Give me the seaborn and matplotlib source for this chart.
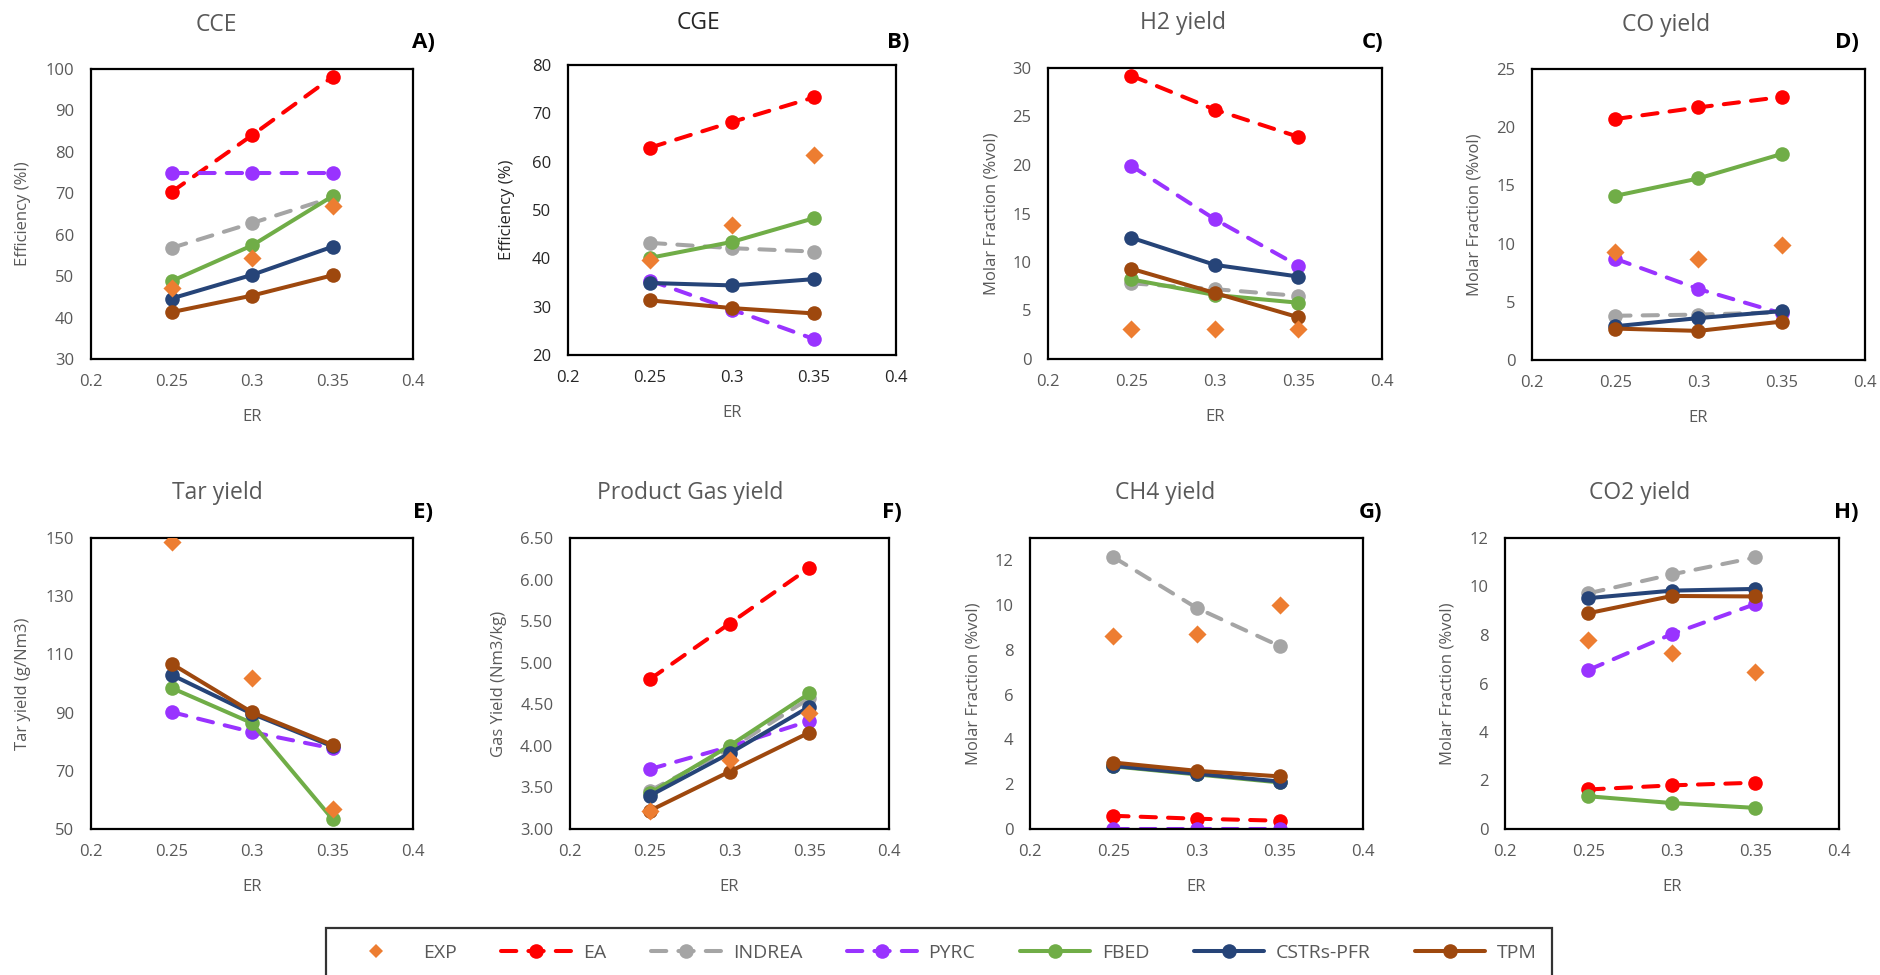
import matplotlib
matplotlib.use("Agg")
import matplotlib.pyplot as plt
from matplotlib.lines import Line2D
import seaborn as sns

# ---------------------------------------------------------------- data
ER = [0.25, 0.30, 0.35]
XTICKS = [0.2, 0.25, 0.3, 0.35, 0.4]
XTICK_LABELS = ["0.2", "0.25", "0.3", "0.35", "0.4"]

MODELS = ["EXP", "EA", "INDREA", "PYRC", "FBED", "CSTRs-PFR", "TPM"]

cce = {
    "EXP": [47.1, 54.5, 66.9],
    "EA": [70.3, 84.0, 98.1],
    "INDREA": [56.8, 62.8, 69.0],
    "PYRC": [75.0, 75.0, 75.0],
    "FBED": [48.8, 57.4, 69.3],
    "CSTRs-PFR": [44.6, 50.3, 57.1],
    "TPM": [41.3, 45.3, 50.2],
}
cge = {
    "EXP": [39.6, 46.9, 61.3],
    "EA": [62.9, 68.2, 73.3],
    "INDREA": [43.2, 42.1, 41.4],
    "PYRC": [35.4, 29.4, 23.3],
    "FBED": [40.1, 43.4, 48.3],
    "CSTRs-PFR": [34.9, 34.4, 35.7],
    "TPM": [31.3, 29.7, 28.6],
}
h2 = {
    "EXP": [3.1, 3.1, 3.1],
    "EA": [29.2, 25.7, 22.9],
    "INDREA": [7.8, 7.2, 6.5],
    "PYRC": [19.9, 14.4, 9.6],
    "FBED": [8.2, 6.6, 5.8],
    "CSTRs-PFR": [12.5, 9.7, 8.5],
    "TPM": [9.3, 6.8, 4.3],
}
co = {
    "EXP": [9.3, 8.7, 9.9],
    "EA": [20.7, 21.7, 22.6],
    "INDREA": [3.8, 3.9, 4.1],
    "PYRC": [8.7, 6.1, 4.0],
    "FBED": [14.1, 15.6, 17.7],
    "CSTRs-PFR": [2.9, 3.6, 4.2],
    "TPM": [2.7, 2.5, 3.3],
}
tar = {
    "EXP": [148.5, 102.0, 57.0],
    "PYRC": [90.2, 83.3, 77.7],
    "FBED": [98.5, 86.4, 53.4],
    "CSTRs-PFR": [103.0, 89.6, 78.4],
    "TPM": [106.8, 90.1, 78.9],
}
gas = {
    "EXP": [3.22, 3.83, 4.40],
    "EA": [4.80, 5.47, 6.14],
    "INDREA": [3.46, 3.96, 4.57],
    "PYRC": [3.72, 3.99, 4.30],
    "FBED": [3.43, 4.00, 4.63],
    "CSTRs-PFR": [3.40, 3.91, 4.47],
    "TPM": [3.22, 3.69, 4.16],
}
ch4 = {
    "EXP": [8.6, 8.7, 10.0],
    "EA": [0.59, 0.46, 0.37],
    "INDREA": [12.15, 9.88, 8.17],
    "PYRC": [0.02, 0.02, 0.02],
    "FBED": [2.80, 2.44, 2.08],
    "CSTRs-PFR": [2.82, 2.47, 2.12],
    "TPM": [2.97, 2.60, 2.35],
}
co2 = {
    "EXP": [7.8, 7.27, 6.49],
    "EA": [1.63, 1.80, 1.91],
    "INDREA": [9.72, 10.5, 11.2],
    "PYRC": [6.56, 8.04, 9.28],
    "FBED": [1.35, 1.07, 0.87],
    "CSTRs-PFR": [9.52, 9.83, 9.90],
    "TPM": [8.90, 9.61, 9.59],
}

# ---------------------------------------------------------------- style
W, H, DPI = 1881, 975, 100
GREY_TXT = "#595959"
DARK_TXT = "#262626"
COLORS = {
    "EXP": "#ED7D31",
    "EA": "#FF0000",
    "INDREA": "#A5A5A5",
    "PYRC": "#9933FF",
    "FBED": "#70AD47",
    "CSTRs-PFR": "#264478",
    "TPM": "#9E480E",
}
DASHED = {"EA", "INDREA", "PYRC"}
DASH = (0, (3.8, 3.0))
LW = 2.9
MS = 10.5

sns.set_theme(style="white")
plt.rcParams["font.family"] = ["Open Sans", "DejaVu Sans"]


def px_rect(left, right, top, bottom):
    return [left / W, 1 - bottom / H, (right - left) / W, (bottom - top) / H]


# panel: data, y range, y ticks, tick format, title, y label, letter,
# axes box (px), title centre (px), letter centre (px), y-label x (px), text colour
panels = [
    (cce, (30, 100), range(30, 101, 10), "{:.0f}", "CCE", "Efficiency (%l)", "A)",
     (91, 413, 69, 359), (216, 25), (423, 43), 23, GREY_TXT),
    (cge, (20, 80), range(20, 81, 10), "{:.0f}", "CGE", "Efficiency (%)", "B)",
     (568, 896, 65, 355), (699, 23), (898, 43), 507, DARK_TXT),
    (h2, (0, 30), range(0, 31, 5), "{:.0f}", "H2 yield", "Molar Fraction (%vol)", "C)",
     (1048, 1382, 68, 359), (1183, 23), (1373, 43), 992, GREY_TXT),
    (co, (0, 25), range(0, 26, 5), "{:.0f}", "CO yield", "Molar Fraction (%vol)", "D)",
     (1532, 1865, 69, 360), (1666, 25), (1847, 43), 1475, GREY_TXT),
    (tar, (50, 150), range(50, 151, 20), "{:.0f}", "Tar yield", "Tar yield (g/Nm3)", "E)",
     (91, 413, 538, 829), (217, 493), (423, 513), 23, GREY_TXT),
    (gas, (3.0, 6.5), [3.0, 3.5, 4.0, 4.5, 5.0, 5.5, 6.0, 6.5], "{:.2f}", "Product Gas yield",
     "Gas Yield (Nm3/kg)", "F)",
     (570, 889, 538, 829), (690, 493), (892, 513), 499, GREY_TXT),
    (ch4, (0, 13), range(0, 13, 2), "{:.0f}", "CH4 yield", "Molar Fraction (%vol)", "G)",
     (1030, 1363, 538, 829), (1165, 493), (1370, 513), 973, GREY_TXT),
    (co2, (0, 12), range(0, 13, 2), "{:.0f}", "CO2 yield", "Molar Fraction (%vol)", "H)",
     (1505, 1839, 538, 829), (1640, 493), (1846, 513), 1448, GREY_TXT),
]

fig = plt.figure(figsize=(W / DPI, H / DPI), dpi=DPI, facecolor="white")

for (data, ylim, yticks, fmt, title, ylabel, letter,
     box, tpos, lpos, ylab_x, tcol) in panels:
    left, right, top, bottom = box
    ax = fig.add_axes(px_rect(left, right, top, bottom))
    ax.set_facecolor("white")

    # model curves first, measured points on top
    for name in MODELS[1:]:
        if name not in data:
            continue
        sns.lineplot(
            x=ER, y=data[name], ax=ax, color=COLORS[name],
            marker="o", markersize=MS, markeredgewidth=0,
            linewidth=LW, errorbar=None,
            linestyle=DASH if name in DASHED else "-",
            dash_capstyle="round", solid_capstyle="round",
        )
    sns.scatterplot(
        x=ER, y=data["EXP"], ax=ax, color=COLORS["EXP"], marker="D",
        s=85, linewidth=0, zorder=5,
    )

    ax.set_xlim(0.2, 0.4)
    ax.set_ylim(*ylim)
    ax.set_xticks(XTICKS)
    ax.set_xticklabels(XTICK_LABELS)
    yt = list(yticks)
    ax.set_yticks(yt)
    ax.set_yticklabels([fmt.format(v) for v in yt])
    ax.tick_params(axis="both", length=0, labelsize=12, labelcolor=tcol)
    ax.tick_params(axis="x", pad=11)
    ax.tick_params(axis="y", pad=12)
    for sp in ax.spines.values():
        sp.set_visible(True)
        sp.set_color("black")
        sp.set_linewidth(1.6)
    ax.grid(False)

    hgt = bottom - top
    wid = right - left
    ax.set_xlabel("ER", fontsize=12, color=GREY_TXT)
    ax.xaxis.set_label_coords(0.5, -(58 / hgt))
    ax.xaxis.label.set_verticalalignment("center")
    ax.set_ylabel(ylabel, fontsize=12, color=tcol)
    ax.yaxis.set_label_coords((ylab_x - left) / wid, 0.5)
    ax.yaxis.label.set_verticalalignment("center")

    ax.text((tpos[0] - left) / wid, (bottom - tpos[1]) / hgt, title,
            transform=ax.transAxes, ha="center", va="center",
            fontsize=16.5, color=tcol)
    ax.text((lpos[0] - left) / wid, (bottom - lpos[1]) / hgt, letter,
            transform=ax.transAxes, ha="center", va="center",
            fontsize=16, fontweight="bold", color="black")

# shared legend along the bottom edge
handles = [Line2D([], [], color=COLORS["EXP"], marker="D", markersize=7,
                  markeredgewidth=0, linestyle="none")]
for name in MODELS[1:]:
    handles.append(Line2D([], [], color=COLORS[name], marker="o", markersize=MS,
                          markeredgewidth=0, linewidth=LW,
                          linestyle=DASH if name in DASHED else "-",
                          dash_capstyle="round", solid_capstyle="round"))
leg = fig.legend(
    handles, MODELS, loc="center", bbox_to_anchor=(939 / W, 1 - 953 / H),
    ncol=7, frameon=True, fancybox=False, fontsize=14,
    handlelength=3.6, handletextpad=0.6, columnspacing=2.3, borderpad=0.8,
    numpoints=1,
)
leg.get_frame().set_edgecolor("black")
leg.get_frame().set_linewidth(1.6)
for t in leg.get_texts():
    t.set_color(GREY_TXT)

fig.savefig("out.png", dpi=DPI, facecolor="white")
